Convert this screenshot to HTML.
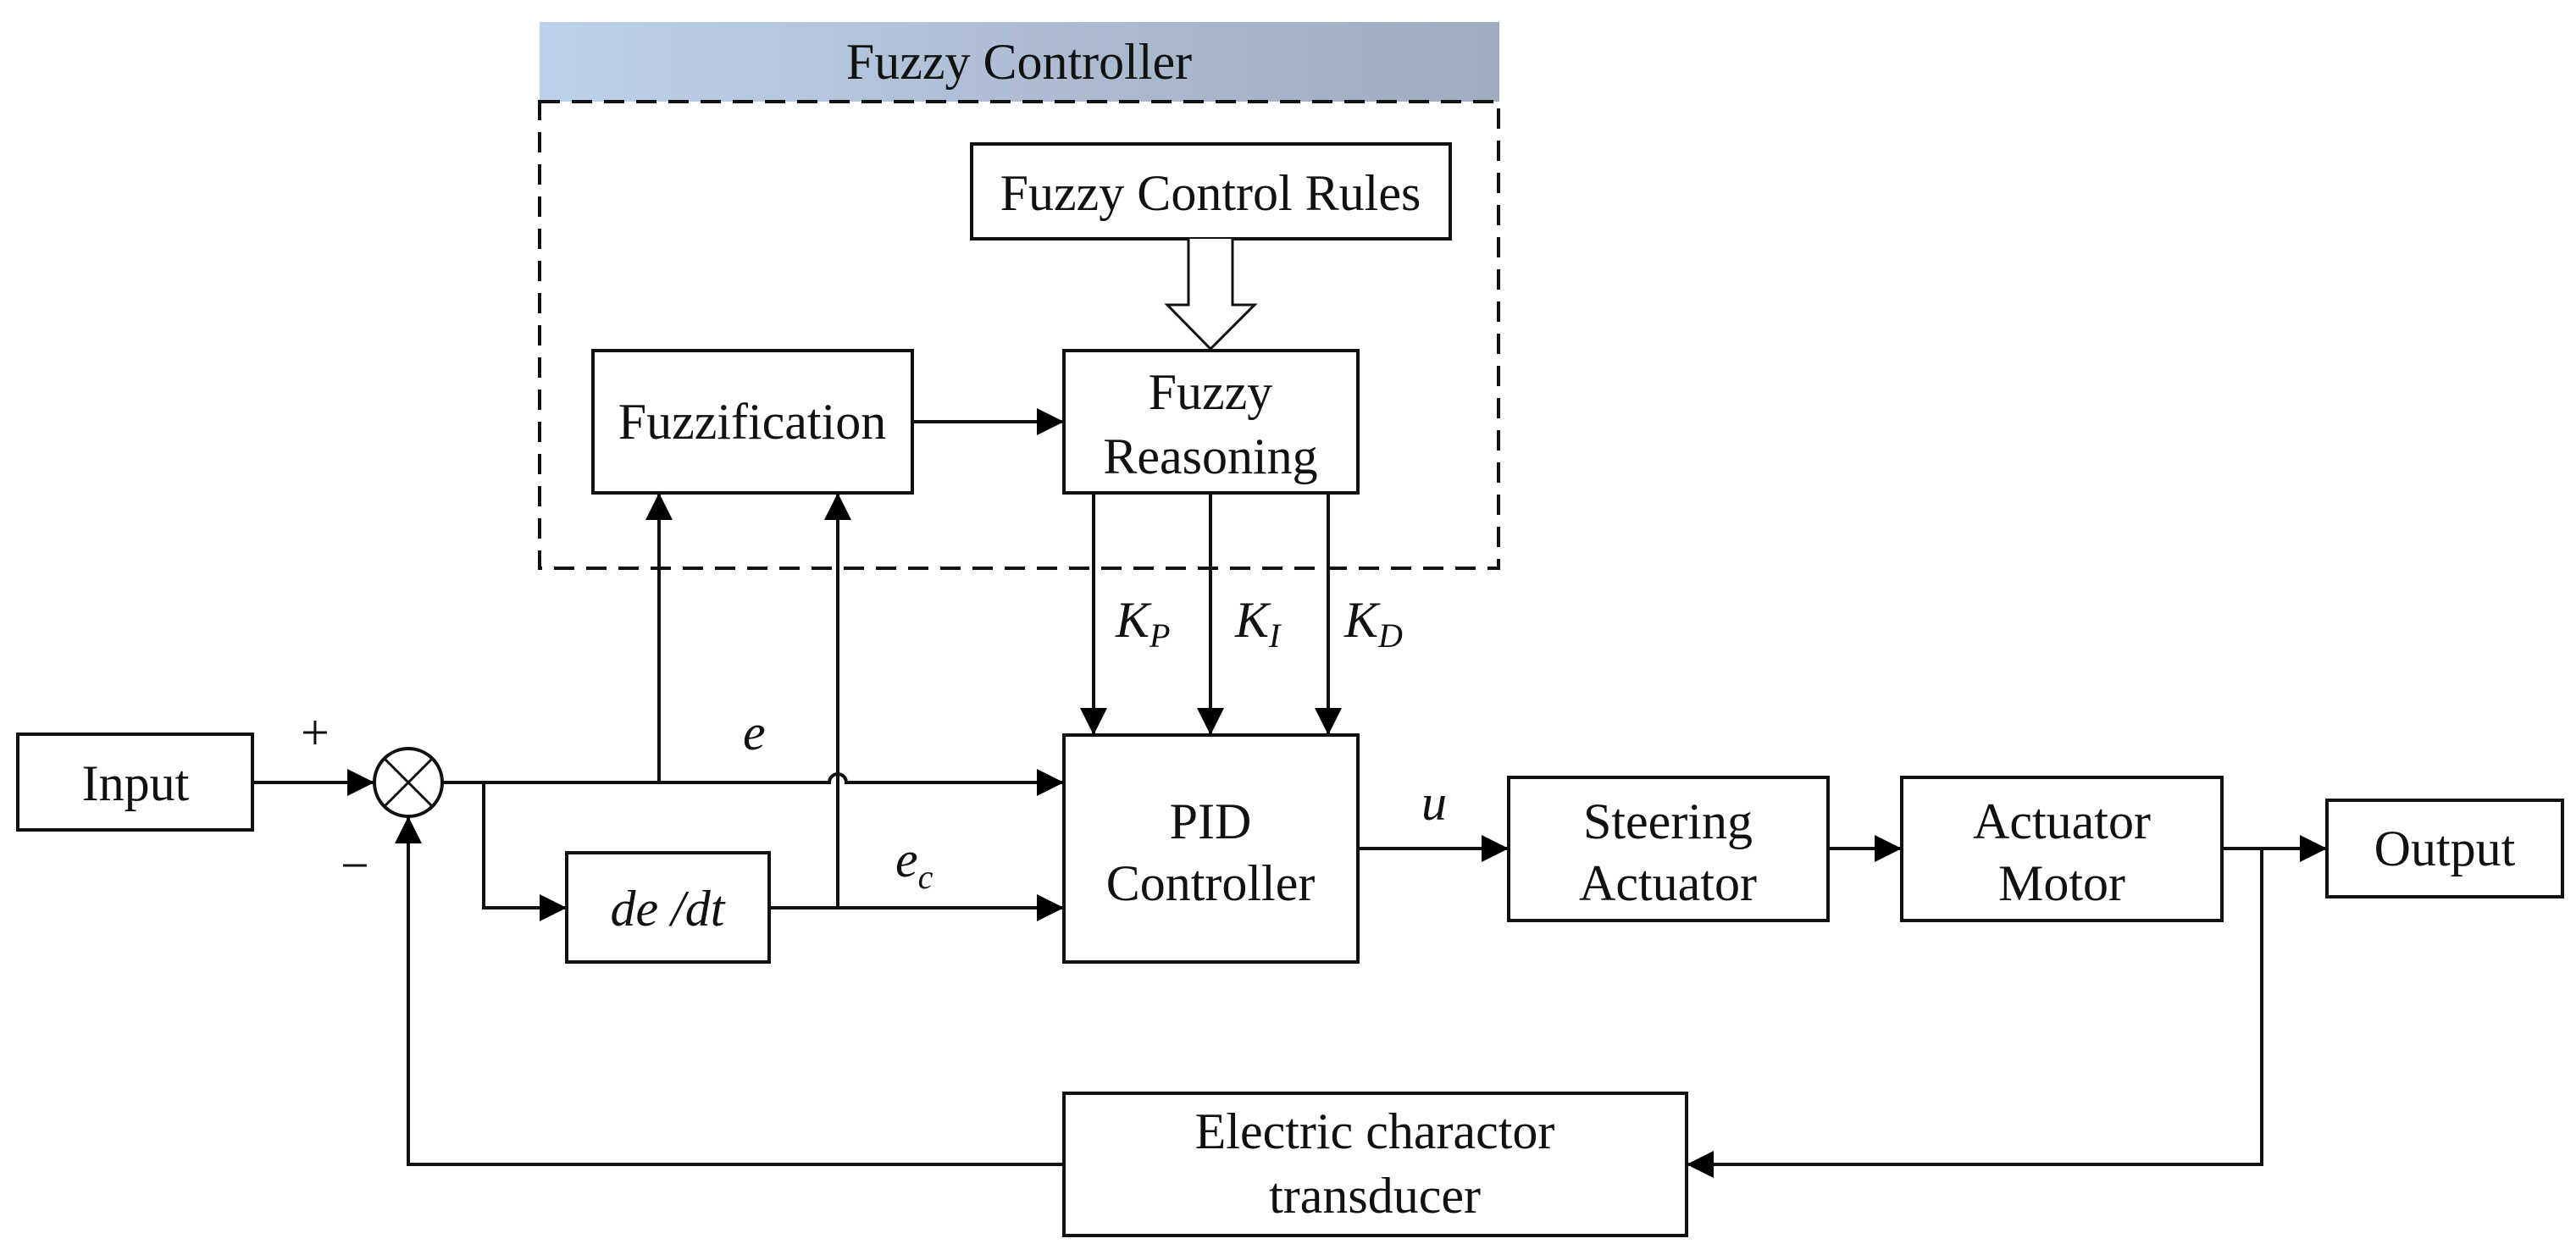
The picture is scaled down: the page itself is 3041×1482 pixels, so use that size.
<!DOCTYPE html>
<html><head><meta charset="utf-8"><style>
html,body{margin:0;padding:0;background:#fff}
svg{display:block}
text{font-family:"Liberation Serif",serif;font-size:60px;fill:#111}
</style></head><body>
<svg width="3041" height="1482" viewBox="0 0 3041 1482" xmlns="http://www.w3.org/2000/svg">
<defs>
<linearGradient id="hg" x1="0" x2="1" y1="0" y2="0">
<stop offset="0" stop-color="#bdd1ea"/><stop offset="0.5" stop-color="#aebdd3"/><stop offset="1" stop-color="#9eacc0"/>
</linearGradient>
<marker id="ar" markerWidth="8" markerHeight="8" refX="7.5" refY="4" orient="auto" markerUnits="strokeWidth">
<path d="M0,0 L8,4 L0,8 z" fill="#000"/>
</marker>
</defs>
<rect x="637" y="26" width="1133" height="94" fill="url(#hg)"/>
<text x="1203" y="93" text-anchor="middle">Fuzzy Controller</text>
<rect x="637" y="120" width="1132" height="551" fill="none" stroke="#111" stroke-width="4" stroke-dasharray="24,14"/>
<g fill="#fff" stroke="#111" stroke-width="4">
<rect x="1147" y="170" width="565" height="112"/>
<rect x="700" y="414" width="377" height="168"/>
<rect x="1256" y="414" width="347" height="168"/>
<rect x="21" y="867" width="277" height="113"/>
<rect x="669" y="1007" width="239" height="129"/>
<rect x="1256" y="868" width="347" height="268"/>
<rect x="1781" y="918" width="377" height="169"/>
<rect x="2245" y="918" width="378" height="169"/>
<rect x="2747" y="945" width="278" height="114"/>
<rect x="1256" y="1291" width="735" height="168"/>
<circle cx="482" cy="924" r="40"/>
</g>
<g stroke="#111" stroke-width="3">
<line x1="454" y1="896" x2="510" y2="952"/><line x1="510" y1="896" x2="454" y2="952"/>
</g>
<path d="M1403,282 V360 H1378 L1429,412 L1481,360 H1455 V282" fill="#fff" stroke="#111" stroke-width="3"/>
<g fill="none" stroke="#111" stroke-width="4" marker-end="url(#ar)">
<line x1="1077" y1="498" x2="1254" y2="498"/>
<line x1="1291" y1="582" x2="1291" y2="866"/>
<line x1="1429" y1="582" x2="1429" y2="866"/>
<line x1="1568" y1="582" x2="1568" y2="866"/>
<line x1="298" y1="924" x2="440" y2="924"/>
<path d="M522,924 H979 A10,10 0 0 1 999,924 H1254"/>
<line x1="778" y1="924" x2="778" y2="584"/>
<path d="M989,1072 V584"/>
<path d="M571,924 V1072 H667"/>
<line x1="908" y1="1072" x2="1254" y2="1072"/>
<line x1="1603" y1="1002" x2="1779" y2="1002"/>
<line x1="2158" y1="1002" x2="2243" y2="1002"/>
<line x1="2623" y1="1002" x2="2745" y2="1002"/>
<path d="M2670,1002 V1375 H1993"/>
<path d="M1256,1375 H482 V966"/>
</g>
<g text-anchor="middle">
<text x="1429" y="483">Fuzzy</text>
<text x="1429" y="559">Reasoning</text>
<text x="888" y="518">Fuzzification</text>
<text x="1429" y="248">Fuzzy Control Rules</text>
<text x="160" y="945">Input</text>
<text x="788" y="1093" font-style="italic">de /dt</text>
<text x="1429" y="990">PID</text>
<text x="1429" y="1063">Controller</text>
<text x="1969" y="990">Steering</text>
<text x="1969" y="1063">Actuator</text>
<text x="2434" y="990">Actuator</text>
<text x="2434" y="1063">Motor</text>
<text x="2886" y="1022">Output</text>
<text x="1623" y="1356">Electric charactor</text>
<text x="1623" y="1432">transducer</text>
</g>
<g font-style="italic">
<text x="1317" y="752">K<tspan font-size="40" dy="12">P</tspan></text>
<text x="1458" y="752">K<tspan font-size="40" dy="12">I</tspan></text>
<text x="1587" y="752">K<tspan font-size="40" dy="12">D</tspan></text>
<text x="877" y="885">e</text>
<text x="1057" y="1035">e<tspan font-size="40" dy="14">c</tspan></text>
<text x="1678" y="968">u</text>
</g>
<text x="355" y="885" font-size="44">+</text>
<text x="402" y="1042" font-size="44">−</text>
</svg>
</body></html>
